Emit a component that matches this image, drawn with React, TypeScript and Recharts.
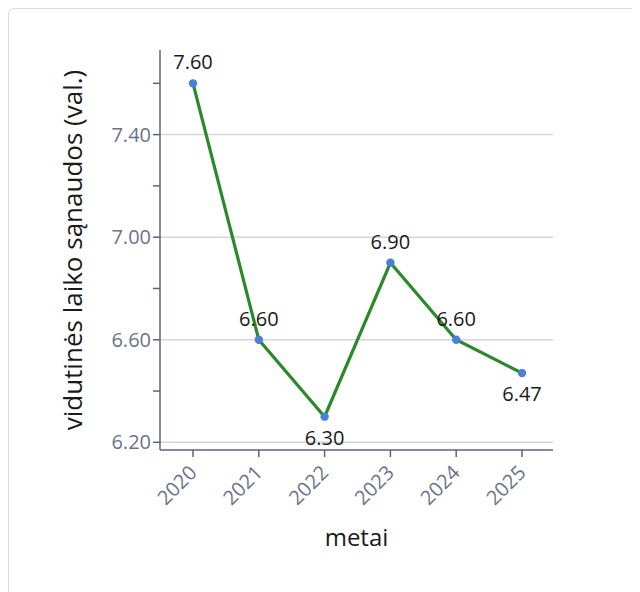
import { Label, LabelList, Line, LineChart, ReferenceLine, XAxis, YAxis } from "recharts";

const years = ["2020", "2021", "2022", "2023", "2024", "2025"];
const hours = [7.6, 6.6, 6.3, 6.9, 6.6, 6.47];
const yTicks = [6.2, 6.4, 6.6, 6.8, 7.0, 7.2, 7.4, 7.6];
const yLabelled = [6.2, 6.6, 7.0, 7.4];

const data = years.map((year, i) => ({ year, hours: hours[i] }));

const font = "'Open Sans', 'Noto Sans', sans-serif";
const axisColor = "#5b6579";
const tickText = "#6b7488";

// label goes below the point when it is lower than its neighbours
function isLow(i: number) {
  const prev = i > 0 ? hours[i - 1] : Infinity;
  const next = i < hours.length - 1 ? hours[i + 1] : Infinity;
  return hours[i] < prev && hours[i] < next;
}

function YTick({ x, y, payload }: any) {
  if (!yLabelled.some((v) => Math.abs(v - payload.value) < 1e-6)) return null;
  return (
    <text x={x} y={y} dy={7} textAnchor="end" fill={tickText} fontSize={20} fontFamily={font}>
      {payload.value.toFixed(2)}
    </text>
  );
}

function XTick({ x, y, payload }: any) {
  return (
    <text
      x={0}
      y={0}
      textAnchor="end"
      fill={tickText}
      fontSize={20}
      fontFamily={font}
      transform={`translate(${x + 5}, ${y + 15}) rotate(-45)`}
    >
      {payload.value}
    </text>
  );
}

function PointLabel({ x, y, value, index }: any) {
  const below = isLow(index);
  return (
    <text
      x={x}
      y={below ? y + 28 : y - 14}
      textAnchor="middle"
      fill="#1a1a1a"
      fontSize={20}
      fontFamily={font}
    >
      {Number(value).toFixed(2)}
    </text>
  );
}

export default function App() {
  return (
    <div style={{ width: 632, height: 584, overflow: "hidden" }}>
      <div
        style={{
          width: 660,
          height: 620,
          border: "1px solid #d8dce2",
          borderRadius: 6,
          background: "#fff",
          boxSizing: "border-box",
        }}
      >
        <LineChart width={620} height={583} data={data} margin={{ top: 41, right: 76, bottom: 42, left: 71 }}>
          {yLabelled.map((v) => (
            <ReferenceLine key={v} y={v} stroke="#d1d5dc" strokeWidth={1.5} />
          ))}
          <XAxis
            dataKey="year"
            padding={{ left: 33, right: 31 }}
            height={100}
            stroke={axisColor}
            strokeWidth={1.5}
            tickSize={7}
            tick={<XTick />}
            interval={0}
          >
            <Label
              value="metai"
              position="insideBottom"
              offset={4}
              fill="#1a1a1a"
              fontSize={24}
              fontFamily={font}
            />
          </XAxis>
          <YAxis
            type="number"
            domain={[6.17, 7.73]}
            ticks={yTicks}
            width={80}
            stroke={axisColor}
            strokeWidth={1.5}
            tickSize={7}
            tick={<YTick />}
            interval={0}
          >
            <Label
              value="vidutinės laiko sąnaudos (val.)"
              angle={-90}
              position="insideLeft"
              offset={-7}
              fill="#1a1a1a"
              fontSize={26}
              fontFamily={font}
              style={{ textAnchor: "middle" }}
            />
          </YAxis>
          <Line
            type="linear"
            dataKey="hours"
            stroke="#2a8a2a"
            strokeWidth={3.2}
            dot={{ r: 4.2, fill: "#4a80d6", stroke: "#4a80d6", strokeWidth: 0 }}
            activeDot={false}
            isAnimationActive={false}
          >
            <LabelList dataKey="hours" content={<PointLabel />} />
          </Line>
        </LineChart>
      </div>
    </div>
  );
}
